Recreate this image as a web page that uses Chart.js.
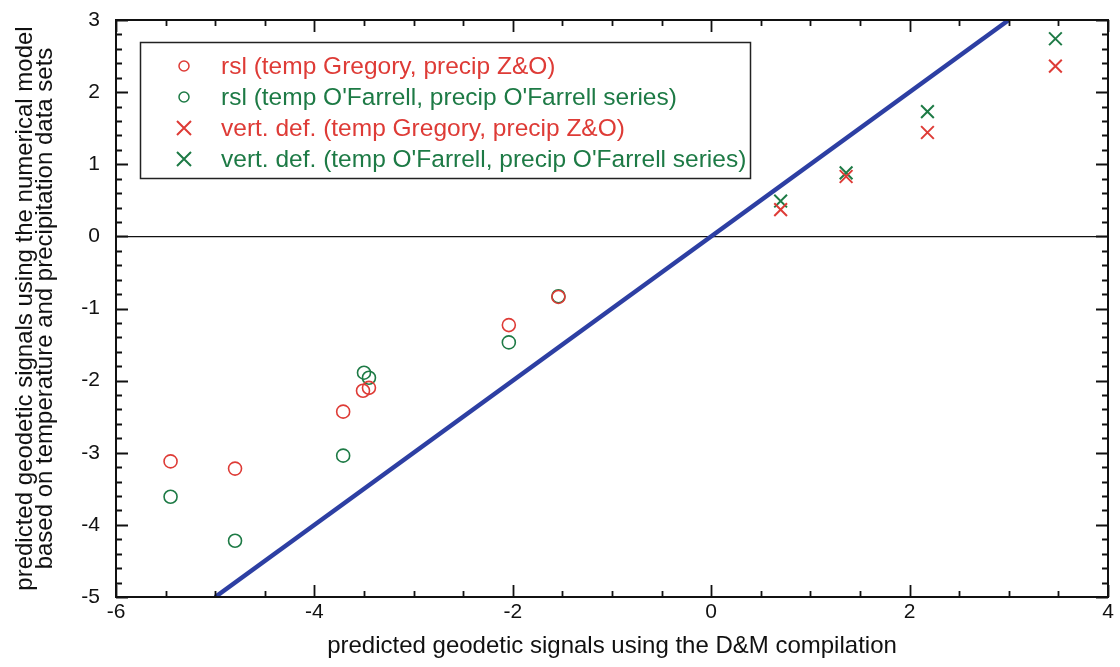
<!DOCTYPE html>
<html>
<head>
<meta charset="utf-8">
<script src="https://cdn.jsdelivr.net/npm/chart.js@4.4.1/dist/chart.umd.min.js"></script>
<style>
html,body{margin:0;padding:0;background:#fff;}
#wrap{width:1120px;height:667px;position:relative;}
</style>
</head>
<body>
<div id="wrap"><canvas id="c" width="1120" height="667"></canvas></div>
<script>
// ---- data ----
const rslX        = [-5.45, -4.80, -3.71, -3.51, -3.45, -2.04, -1.54];
const rslGregoryY = [-3.12, -3.22, -2.43, -2.14, -2.10, -1.23, -0.84];
const rslOFarrX   = [-5.45, -4.80, -3.71, -3.50, -3.45, -2.04, -1.54];
const rslOFarrY   = [-3.61, -4.22, -3.04, -1.89, -1.96, -1.47, -0.83];
const vdX         = [0.70, 1.36, 2.18, 3.47];
const vdGregoryY  = [0.37, 0.83, 1.44, 2.36];
const vdOFarrY    = [0.49, 0.88, 1.73, 2.74];
const refLineX    = [-5, 3];
const refLineY    = [-5, 3];
const seriesLabels = [
  "rsl (temp Gregory, precip Z&O)",
  "rsl (temp O'Farrell, precip O'Farrell series)",
  "vert. def. (temp Gregory, precip Z&O)",
  "vert. def. (temp O'Farrell, precip O'Farrell series)"
];
const xTitle = "predicted geodetic signals using the D&M compilation";
const yTitle = ["predicted geodetic signals using the numerical model",
                "based on temperature and precipitation data sets"];

const RED = '#de3b36', GREEN = '#1d7a45', BLUE = '#2d3fa3';
const FONT = "'Liberation Sans', Arial, Helvetica, sans-serif";

const pts = (xs, ys) => xs.map((x, i) => ({x: x, y: ys[i]}));

// inward ticks, mirrored frame
const frameTicks = {
  id: 'frameTicks',
  afterDatasetsDraw(chart) {
    const ctx = chart.ctx, a = chart.chartArea;
    const xs = chart.scales.x, ys = chart.scales.y;
    ctx.save();
    ctx.strokeStyle = '#111';
    ctx.lineWidth = 2;
    ctx.strokeRect(a.left, a.top, a.right - a.left, a.bottom - a.top);
    ctx.lineWidth = 1.8;
    for (let i = 0; i <= 20; i++) {
      const v = xs.min + i * 0.5;
      const px = Math.round(xs.getPixelForValue(v)) + 0.5;
      const major = Math.abs(v / 2 - Math.round(v / 2)) < 1e-6;
      const L = major ? 12 : 6;
      ctx.beginPath();
      ctx.moveTo(px, a.bottom); ctx.lineTo(px, a.bottom - L);
      ctx.moveTo(px, a.top); ctx.lineTo(px, a.top + L);
      ctx.stroke();
    }
    for (let i = 0; i <= 40; i++) {
      const v = ys.min + i * 0.2;
      const py = Math.round(ys.getPixelForValue(v)) + 0.5;
      const major = Math.abs(v - Math.round(v)) < 1e-6;
      const L = major ? 12 : 6;
      ctx.beginPath();
      ctx.moveTo(a.left, py); ctx.lineTo(a.left + L, py);
      ctx.moveTo(a.right, py); ctx.lineTo(a.right - L, py);
      ctx.stroke();
    }
    ctx.restore();
  }
};

// boxed legend inside plot
const boxLegend = {
  id: 'boxLegend',
  afterDraw(chart) {
    const ctx = chart.ctx;
    const x0 = 140, y0 = 42, w = 610, h = 136;
    ctx.save();
    ctx.fillStyle = '#fff';
    ctx.fillRect(x0, y0, w, h);
    ctx.strokeStyle = '#222';
    ctx.lineWidth = 1.5;
    ctx.strokeRect(x0 + 0.5, y0 + 0.5, w, h);
    ctx.font = '24.5px ' + FONT;
    ctx.textBaseline = 'middle';
    ctx.textAlign = 'left';
    const colors = [RED, GREEN, RED, GREEN];
    const styles = ['circle', 'circle', 'crossRot', 'crossRot'];
    for (let i = 0; i < 4; i++) {
      const cy = 66 + i * 31;
      ctx.strokeStyle = colors[i];
      ctx.fillStyle = colors[i];
      if (styles[i] === 'circle') {
        ctx.lineWidth = 1.5;
        ctx.beginPath(); ctx.arc(184, cy, 5, 0, Math.PI * 2); ctx.stroke();
      } else {
        ctx.lineWidth = 2;
        ctx.beginPath();
        ctx.moveTo(177, cy - 7); ctx.lineTo(191, cy + 7);
        ctx.moveTo(191, cy - 7); ctx.lineTo(177, cy + 7);
        ctx.stroke();
      }
      ctx.fillText(seriesLabels[i], 221, cy + 1);
    }
    ctx.restore();
  }
};

new Chart(document.getElementById('c'), {
  data: {
    datasets: [
      { type: 'scatter', label: seriesLabels[0], data: pts(rslX, rslGregoryY),
        pointStyle: 'circle', pointRadius: 6.5, pointBorderWidth: 1.6,
        borderColor: RED, backgroundColor: 'rgba(0,0,0,0)', order: 1 },
      { type: 'scatter', label: seriesLabels[1], data: pts(rslOFarrX, rslOFarrY),
        pointStyle: 'circle', pointRadius: 6.5, pointBorderWidth: 1.6,
        borderColor: GREEN, backgroundColor: 'rgba(0,0,0,0)', order: 2 },
      { type: 'scatter', label: seriesLabels[2], data: pts(vdX, vdGregoryY),
        pointStyle: 'crossRot', pointRadius: 9, pointBorderWidth: 2,
        borderColor: RED, backgroundColor: RED, order: 3 },
      { type: 'scatter', label: seriesLabels[3], data: pts(vdX, vdOFarrY),
        pointStyle: 'crossRot', pointRadius: 9, pointBorderWidth: 2,
        borderColor: GREEN, backgroundColor: GREEN, order: 4 },
      { type: 'line', label: 'y = x', data: pts(refLineX, refLineY),
        borderColor: BLUE, borderWidth: 4.5, pointRadius: 0, fill: false, order: 10 }
    ]
  },
  options: {
    responsive: false,
    animation: false,
    events: [],
    layout: { padding: { left: 0, right: 12, top: 20, bottom: 0 } },
    plugins: { legend: { display: false }, tooltip: { enabled: false } },
    scales: {
      x: {
        type: 'linear', min: -6, max: 4,
        afterFit(s) { s.height = 70; },
        ticks: { stepSize: 2, color: '#111', padding: 3,
                 font: { family: FONT, size: 21 } },
        grid: { display: false, drawTicks: false },
        border: { display: false },
        title: { display: true, text: xTitle, color: '#111',
                 font: { family: FONT, size: 24 }, padding: { top: 0, bottom: 6 } }
      },
      y: {
        type: 'linear', min: -5, max: 3,
        afterFit(s) { s.width = 116; s.paddingTop = 0; s.paddingBottom = 0; },
        ticks: { stepSize: 1, color: '#111', padding: 16,
                 font: { family: FONT, size: 21 } },
        grid: {
          drawTicks: false,
          color: (c) => (c.tick && c.tick.value === 0) ? '#111' : 'rgba(0,0,0,0)',
          lineWidth: 1.2
        },
        border: { display: false },
        title: { display: true, text: yTitle, color: '#111',
                 font: { family: FONT, size: 24, lineHeight: 0.85 }, padding: { top: 15, bottom: 0 } }
      }
    }
  },
  plugins: [frameTicks, boxLegend]
});
</script>
</body>
</html>
